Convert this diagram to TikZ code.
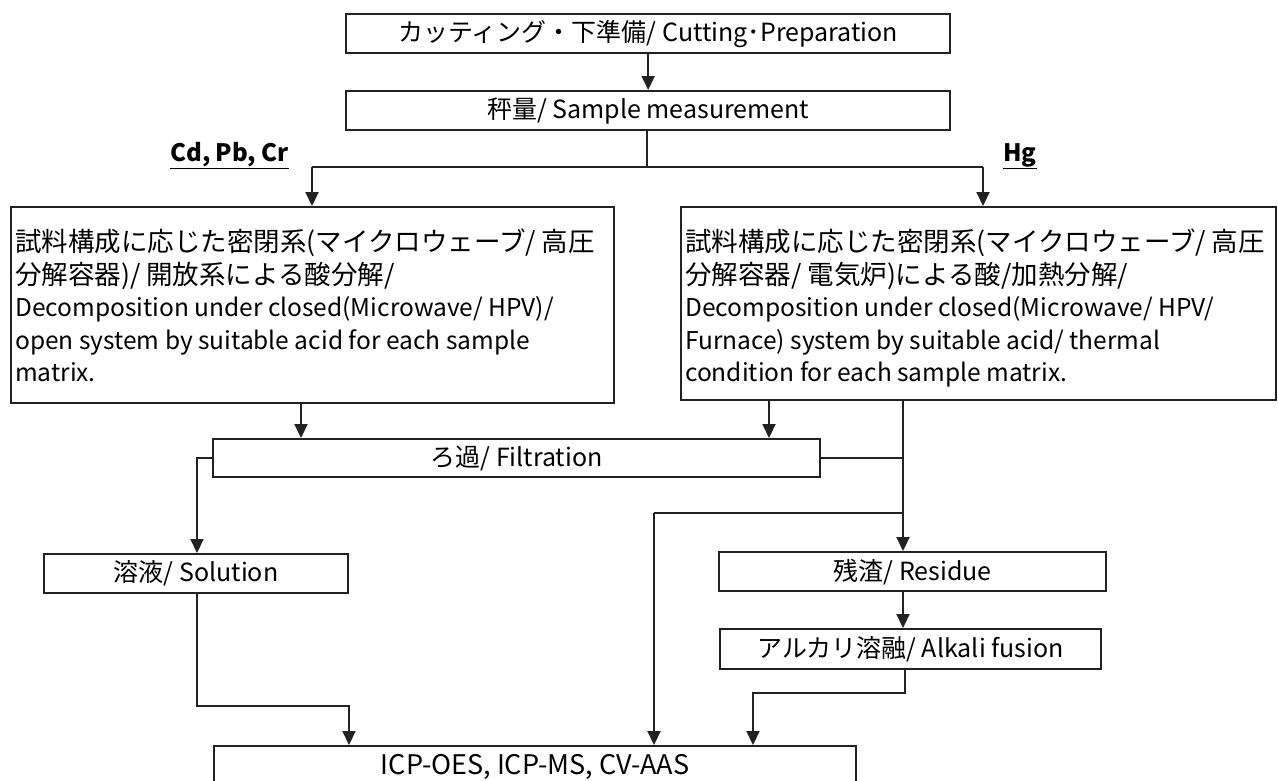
\documentclass[tikz,border=0pt]{standalone}
\usepackage{fontspec}
\setmainfont{Noto Sans CJK JP}
\usetikzlibrary{arrows.meta}
\definecolor{ink}{HTML}{222222}
\newcommand{\jpl}{\fontsize{26.5}{32}\selectfont}
\begin{document}
\begin{tikzpicture}[x=1pt,y=-1pt,
  box/.style={draw=ink, line width=2.3pt, fill=white, inner sep=0pt, anchor=north west, font=\fontsize{25}{30}\selectfont},
  body/.style={anchor=north west, align=left, inner sep=0pt, font=\fontsize{24.5}{32.5}\selectfont},
  lab/.style={anchor=base west, inner sep=0pt, font=\fontsize{24}{30}\selectfont\bfseries},
  conn/.style={draw=ink, line width=2.1pt},
  arr/.style={conn, -{Triangle[width=13pt,length=14pt]}}]
\useasboundingbox (0,0) rectangle (1278,780);
\fill[white] (0,0) rectangle (1278,780);
\clip (0,0) rectangle (1278,780);

% boxes
\node[box, minimum width=604pt, minimum height=39pt] (cut) at (345,13) {カッティング・下準備/ Cutting･Preparation};
\node[box, minimum width=604pt, minimum height=39pt] (meas) at (345,90) {秤量/ Sample measurement};
\node[box, minimum width=603pt, minimum height=196pt] (decL) at (10,206) {};
\node[box, minimum width=595pt, minimum height=193pt] (decR) at (680,206) {};
\node[box, minimum width=607pt, minimum height=38pt] (filt) at (212,438) {ろ過/ Filtration};
\node[box, minimum width=304pt, minimum height=39pt] (sol) at (43,553) {溶液/ Solution};
\node[box, minimum width=387pt, minimum height=39pt] (res) at (718,551) {残渣/ Residue};
\node[box, minimum width=381pt, minimum height=40pt] (alk) at (719,628) {アルカリ溶融/ Alkali fusion};
\node[box, minimum width=642pt, minimum height=42pt, font=\fontsize{27}{30}\selectfont] (icp) at (213,745) {ICP-OES, ICP-MS, CV-AAS};

% box texts
\node[body] (decLT) at (15,229) {{\jpl 試料構成に応じた密閉系(マイクロウェーブ/ 高圧}\\{\jpl 分解容器)/ 開放系による酸分解/}\\Decomposition under closed(Microwave/ HPV)/\\open system by suitable acid for each sample\\matrix.};
\node[body] (decRT) at (685,229) {{\jpl 試料構成に応じた密閉系(マイクロウェーブ/ 高圧}\\{\jpl 分解容器/ 電気炉)による酸/加熱分解/}\\Decomposition under closed(Microwave/ HPV/\\Furnace) system by suitable acid/ thermal\\condition for each sample matrix.};

% labels
\node[lab] (cdl) at (170,161) {\underline{Cd, Pb, Cr}};
\node[lab] (hgl) at (1003,161) {\underline{Hg}};

% connectors
\draw[arr] (cut.south) -- (meas.north);
\coordinate (jm) at (647,167);
\coordinate (jl) at (312,167);
\coordinate (jr) at (983,167);
\draw[conn] (meas.south -| jm) -- (jm);
\draw[conn] (jl) -- (jr);
\draw[arr] (jl) -- (jl |- decL.north);
\draw[arr] (jr) -- (jr |- decR.north);

\coordinate (dl) at (301,0);
\coordinate (dr) at (769,0);
\draw[arr] (decL.south -| dl) -- (dl |- filt.north);
\draw[arr] (decR.south -| dr) -- (dr |- filt.north);

\coordinate (vR) at (903,0);
\draw[arr] (decR.south -| vR) -- (vR |- res.north);
\draw[conn] (filt.east) -- (filt.east -| vR);
\coordinate (k1) at (903,513);
\coordinate (k2) at (654,513);
\draw[conn] (k1) -- (k2);
\draw[arr] (k2) -- (k2 |- icp.north);

\coordinate (fl) at (197,0);
\draw[arr] (filt.west) -- (filt.west -| fl) -- (fl |- sol.north);
\coordinate (s1) at (197,706);
\coordinate (s2) at (349,706);
\draw[arr] (sol.south -| s1) -- (s1) -- (s2) -- (s2 |- icp.north);

\draw[arr] (res.south -| vR) -- (vR |- alk.north);
\coordinate (t1) at (905,693);
\coordinate (t2) at (753,693);
\draw[arr] (alk.south -| t1) -- (t1) -- (t2) -- (t2 |- icp.north);
\end{tikzpicture}
\end{document}
